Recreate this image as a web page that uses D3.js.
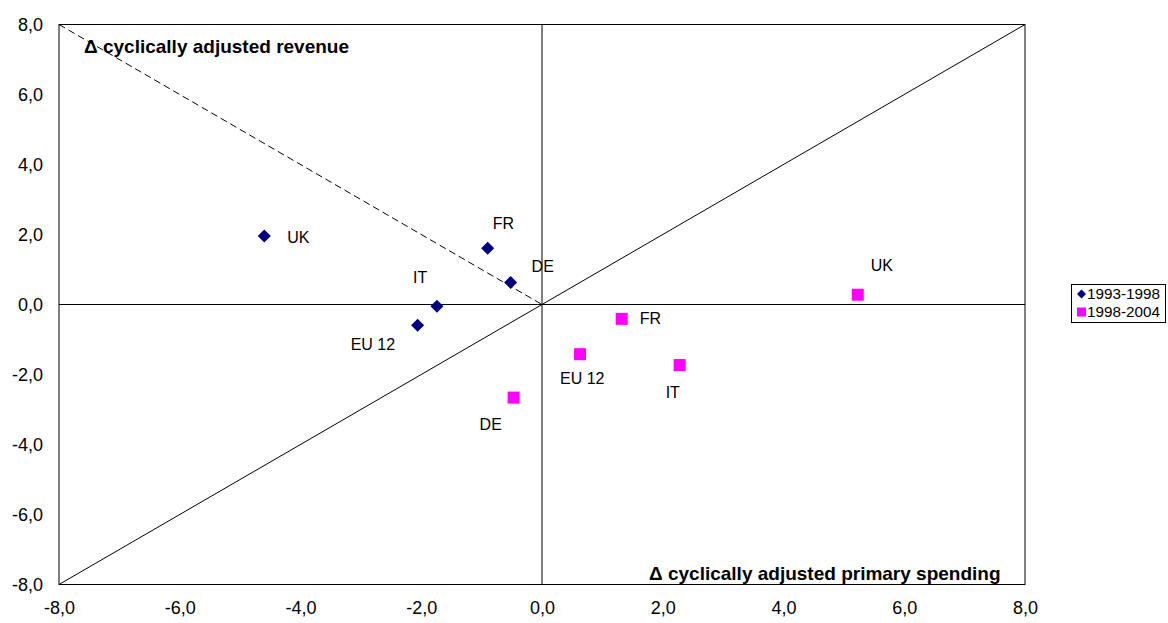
<!DOCTYPE html>
<html>
<head>
<meta charset="utf-8">
<script src="https://cdn.jsdelivr.net/npm/d3@7"></script>
<style>
  html, body { margin: 0; padding: 0; background: #fff; }
  svg { display: block; font-family: Arial, "Liberation Sans", sans-serif; }
</style>
</head>
<body>
<svg id="chart" width="1168" height="623"></svg>
<script>
// ---- data ----
const ticks = [-8, -6, -4, -2, 0, 2, 4, 6, 8];
const seriesNames = ["1993-1998", "1998-2004"];
const countries1 = ["UK", "FR", "DE", "IT", "EU 12"];
const x1 = [-4.60, -0.90, -0.52, -1.74, -2.06];
const y1 = [1.96, 1.61, 0.63, -0.05, -0.59];
const countries2 = ["DE", "EU 12", "FR", "IT", "UK"];
const x2 = [-0.47, 0.63, 1.32, 2.28, 5.23];
const y2 = [-2.66, -1.42, -0.41, -1.73, 0.28];
// label offsets (pixels from marker: text start x, centre y)
const labelOff1 = [[23, 1], [5, -25], [21, -16], [-24, -29], [-67, 19]];
const labelOff2 = [[-34, 27], [-20, 24], [18, 0], [-14, 27], [13, -29]];
const titleX = "\u0394 cyclically adjusted primary spending";
const titleY = "\u0394 cyclically adjusted revenue";

// ---- layout ----
const L = 59, R = 1025, T = 24.5, B = 584.5;
const xs = d3.scaleLinear().domain([-8, 8]).range([L, R]);
const ys = d3.scaleLinear().domain([-8, 8]).range([B, T]);
const loc = d3.formatLocale({decimal: ",", thousands: ".", grouping: [3], currency: ["", ""], minus: "-"});
const fmt = loc.format(".1f");

const svg = d3.select("#chart");

// frame
svg.append("rect").attr("x", L).attr("y", T).attr("width", R - L).attr("height", B - T)
  .attr("fill", "none").attr("stroke", "#000").attr("stroke-width", 1);

// zero lines
svg.append("line").attr("x1", xs(0)).attr("x2", xs(0)).attr("y1", T).attr("y2", B)
  .attr("stroke", "#000").attr("stroke-width", 1);
svg.append("line").attr("x1", L).attr("x2", R).attr("y1", ys(0)).attr("y2", ys(0))
  .attr("stroke", "#000").attr("stroke-width", 1);

// diagonal
svg.append("line").attr("x1", xs(-8)).attr("y1", ys(-8)).attr("x2", xs(8)).attr("y2", ys(8))
  .attr("stroke", "#000").attr("stroke-width", 1);
// dashed
svg.append("line").attr("x1", xs(-8)).attr("y1", ys(8)).attr("x2", xs(0)).attr("y2", ys(0))
  .attr("stroke", "#000").attr("stroke-width", 1).attr("stroke-dasharray", "7,4");

// axes (labels only)
const yAxis = d3.axisLeft(ys).tickValues(ticks).tickFormat(fmt).tickSize(0).tickPadding(16);
const gy = svg.append("g").attr("transform", `translate(${L},0)`).call(yAxis);
const xAxis = d3.axisBottom(xs).tickValues(ticks).tickFormat(fmt).tickSize(0).tickPadding(17);
const gx = svg.append("g").attr("transform", `translate(0,${B})`).call(xAxis);
[gy, gx].forEach(g => {
  g.select(".domain").remove();
  g.selectAll("text").attr("font-size", 18).attr("font-family", "Arial, 'Liberation Sans', sans-serif").attr("fill", "#000");
});

// titles
svg.append("text").attr("x", 84).attr("y", 53).attr("font-size", 19).attr("font-weight", "bold").text(titleY);
svg.append("text").attr("x", 649).attr("y", 580).attr("font-size", 19).attr("font-weight", "bold").text(titleX);

// series 1: diamonds
const diamond = d3.symbol().type(d3.symbolSquare).size(85);
const d1 = countries1.map((c, i) => ({c, x: x1[i], y: y1[i], o: labelOff1[i]}));
const d2 = countries2.map((c, i) => ({c, x: x2[i], y: y2[i], o: labelOff2[i]}));

svg.append("g").selectAll("path").data(d1).join("path")
  .attr("d", diamond)
  .attr("transform", d => `translate(${xs(d.x)},${ys(d.y)}) rotate(45)`)
  .attr("fill", "#000080");
svg.append("g").selectAll("rect").data(d2).join("rect")
  .attr("x", d => xs(d.x) - 6).attr("y", d => ys(d.y) - 6)
  .attr("width", 12).attr("height", 12).attr("fill", "#FF00FF");

// point labels
svg.append("g").selectAll("text").data(d1.concat(d2)).join("text")
  .attr("x", d => xs(d.x) + d.o[0]).attr("y", d => ys(d.y) + d.o[1])
  .attr("dy", "0.35em").attr("font-size", 16).attr("fill", "#000").text(d => d.c);

// legend
const lg = svg.append("g");
lg.append("rect").attr("x", 1071.5).attr("y", 284.5).attr("width", 94).attr("height", 38)
  .attr("fill", "#fff").attr("stroke", "#000").attr("stroke-width", 1);
const legendSym = [
  g => g.append("path").attr("d", d3.symbol().type(d3.symbolSquare).size(40)).attr("transform", "rotate(45)").attr("fill", "#000080"),
  g => g.append("rect").attr("x", -4.5).attr("y", -4.5).attr("width", 9).attr("height", 9).attr("fill", "#FF00FF")
];
seriesNames.forEach((s, i) => {
  const g = lg.append("g").attr("transform", `translate(1081.5,${294 + i * 18})`);
  legendSym[i](g);
  g.append("text").attr("x", 5.5).attr("dy", "0.35em").attr("font-size", 14)
    .attr("textLength", 73).attr("lengthAdjust", "spacingAndGlyphs").text(s);
});
</script>
</body>
</html>
